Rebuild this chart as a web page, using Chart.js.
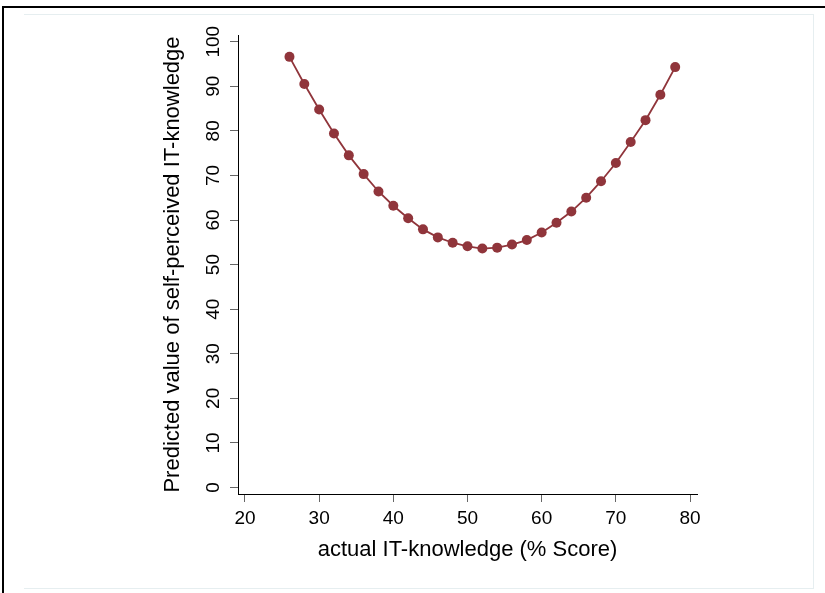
<!DOCTYPE html>
<html>
<head>
<meta charset="utf-8">
<script src="https://cdn.jsdelivr.net/npm/chart.js@4.4.1/dist/chart.umd.min.js"></script>
<style>
    body { margin: 0; background: #fff; }
    #moldura { position: absolute; left: 2px; top: 6px; width: 900px; height: 700px; border-top: 2px solid #000; border-left: 2px solid #000; }
    #interno { position: absolute; left: 24px; top: 14px; width: 789px; height: 573px; border-top: 1px solid #e6eef0; border-bottom: 1px solid #e6eef0; border-right: 1px solid #e6eef0; }
    #caixa { position: absolute; left: 0; top: 0; width: 825px; height: 593px; }
</style>
</head>
<body>
<div id="moldura"></div>
<div id="interno"></div>
<div id="caixa"><canvas id="grafico-it"></canvas></div>
<script>
// Dados do gráfico
const escoreReal = [26, 28, 30, 32, 34, 36, 38, 40, 42, 44, 46, 48, 50, 52, 54, 56, 58, 60, 62, 64, 66, 68, 70, 72, 74, 76, 78]
const valorPrevisto = [96.6, 90.5, 84.8, 79.4, 74.5, 70.3, 66.4, 63.2, 60.4, 57.9, 56.1, 54.9, 54.1, 53.6, 53.8, 54.5, 55.5, 57.2, 59.4, 61.9, 65.0, 68.7, 72.8, 77.5, 82.4, 88.1, 94.3]
const ticksX = [20, 30, 40, 50, 60, 70, 80]
const ticksY = [0, 10, 20, 30, 40, 50, 60, 70, 80, 90, 100]

const corLinha = 'rgb(144, 53, 59)'
const fonte = '"Liberation Sans", Arial, sans-serif'

const pontos = escoreReal.map((x, i) => ({ x: x, y: valorPrevisto[i] }))

const graficoIT = document.getElementById('grafico-it')

new Chart(
    graficoIT, {
    type: 'line',
    data: {
        datasets: [{
            data: pontos,
            borderColor: corLinha,
            backgroundColor: corLinha,
            borderWidth: 1.8,
            pointRadius: 5,
            pointBorderWidth: 0,
            pointBackgroundColor: corLinha,
            tension: 0
        }]
    },
    options: {
        responsive: true,
        maintainAspectRatio: false,
        animation: false,
        layout: {
            padding: { top: 35, right: 128, left: 0, bottom: 0 }
        },
        plugins: {
            legend: { display: false },
            tooltip: { enabled: false }
        },
        scales: {
            x: {
                type: 'linear',
                min: 19.06,
                max: 80.94,
                afterBuildTicks: s => { s.ticks = ticksX.map(v => ({ value: v })) },
                afterFit: s => { s.height = 99 },
                grid: { drawOnChartArea: false, tickLength: 8, tickColor: '#666', tickWidth: 1 },
                border: { color: '#000', width: 1 },
                ticks: {
                    color: '#000',
                    padding: 5,
                    autoSkip: false,
                    maxRotation: 0,
                    font: { family: fonte, size: 19 }
                },
                title: {
                    display: true,
                    text: 'actual IT-knowledge (% Score)',
                    color: '#000',
                    font: { family: fonte, size: 22 },
                    padding: { top: 0, bottom: 30 }
                }
            },
            y: {
                type: 'linear',
                min: -1.46,
                max: 101.5,
                afterBuildTicks: s => { s.ticks = ticksY.map(v => ({ value: v })) },
                afterFit: s => { s.width = 238 },
                grid: { drawOnChartArea: false, tickLength: 8, tickColor: '#666', tickWidth: 1 },
                border: { color: '#000', width: 1 },
                ticks: {
                    color: '#000',
                    padding: 0,
                    autoSkip: false,
                    minRotation: 90,
                    maxRotation: 90,
                    crossAlign: 'center',
                    font: { family: fonte, size: 19 }
                },
                title: {
                    display: true,
                    text: 'Predicted value of self-perceived IT-knowledge',
                    color: '#000',
                    font: { family: fonte, size: 22 },
                    padding: { top: 160, bottom: 0 }
                }
            }
        }
    }
}
)
</script>
</body>
</html>
